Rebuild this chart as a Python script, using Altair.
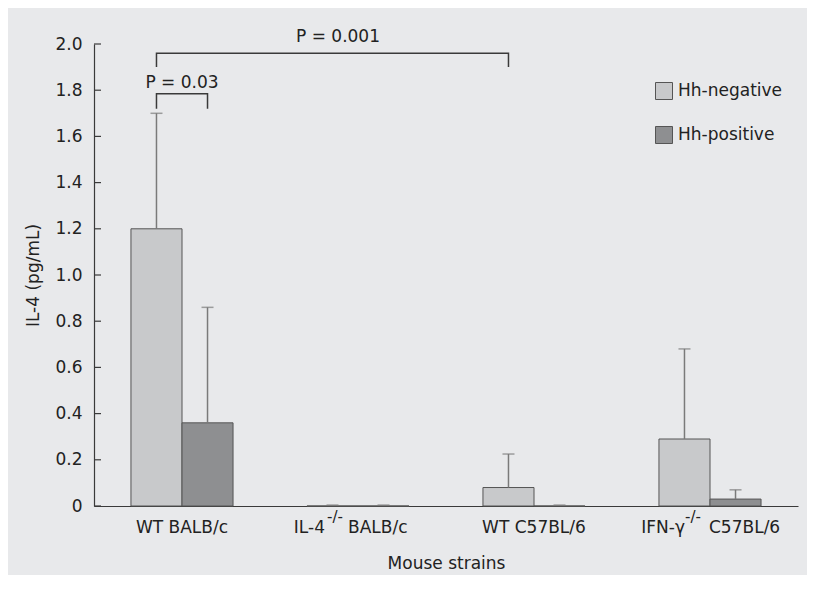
import altair as alt
import pandas as pd

# ---------------- data ----------------
strains = ["WT BALB/c", "IL-4-/- BALB/c", "WT C57BL/6", "IFN-γ-/- C57BL/6"]
groups = ["Hh-negative", "Hh-positive"]

neg_mean = [1.20, 0.0, 0.08, 0.29]
neg_upper = [1.70, 0.004, 0.225, 0.68]
pos_mean = [0.36, 0.0, 0.0, 0.03]
pos_upper = [0.86, 0.004, 0.004, 0.07]

y_ticks = [0, 0.2, 0.4, 0.6, 0.8, 1.0, 1.2, 1.4, 1.6, 1.8, 2.0]

# significance brackets
bracket_id = ["a", "a", "a", "a", "b", "b", "b", "b"]
bracket_strain = [strains[0], strains[0], strains[0], strains[0],
                  strains[0], strains[0], strains[2], strains[2]]
bracket_group = [groups[0], groups[0], groups[1], groups[1],
                 groups[0], groups[0], groups[0], groups[0]]
bracket_y = [1.72, 1.785, 1.785, 1.72, 1.90, 1.96, 1.96, 1.90]
bracket_order = [0, 1, 2, 3, 0, 1, 2, 3]

p_text = ["P = 0.03", "P = 0.001"]
p_strain = [strains[0], strains[1]]
p_y = [1.83, 2.03]
p_dx = [0, -20]

# x-axis label pieces (text, strain, align, dx, superscript?)
lab_text = ["WT BALB/c", "IL-4", "-/-", "BALB/c", "WT C57BL/6", "IFN-γ", "-/-", "C57BL/6"]
lab_strain = [strains[0], strains[1], strains[1], strains[1], strains[2], strains[3], strains[3], strains[3]]
lab_align = ["center", "right", "left", "left", "center", "right", "left", "left"]
lab_dx = [0, -33, -31, -10, 0, -25, -25, -1]
lab_sup = [False, False, True, False, False, False, True, False]

# ---------------- tables ----------------
bars = pd.DataFrame({
    "strain": strains * 2,
    "group": [groups[0]] * 4 + [groups[1]] * 4,
    "value": neg_mean + pos_mean,
    "upper": neg_upper + pos_upper,
})
ticks_df = pd.DataFrame({"t": y_ticks})
brackets = pd.DataFrame({"id": bracket_id, "strain": bracket_strain, "group": bracket_group,
                         "y": bracket_y, "ord": bracket_order})

FONT = "DejaVu Sans"
TXT = "#222222"
LINE = "#3a3a3a"

x_enc = alt.X("strain:N", sort=strains,
              scale=alt.Scale(domain=strains, paddingInner=0.42, paddingOuter=0.21),
              axis=alt.Axis(labels=False, ticks=False, domainColor=LINE, domainWidth=1.2,
                            title="Mouse strains", titleFontSize=17, titleFontWeight="normal",
                            titleColor=TXT, titlePadding=49, titleFont=FONT))
xo_enc = alt.XOffset("group:N", sort=groups, scale=alt.Scale(domain=groups, paddingInner=0, paddingOuter=0))
y_scale = alt.Scale(domain=[0, 2.0], nice=False)
y_enc = alt.Y("value:Q", scale=y_scale,
              axis=alt.Axis(values=y_ticks, tickSize=0, labelPadding=12, grid=False,
                            labelExpr="datum.value == 0 ? '0' : format(datum.value, '.1f')",
                            labelFontSize=17, labelColor=TXT, labelFont=FONT,
                            domainColor=LINE, domainWidth=1.2,
                            title="IL-4 (pg/mL)", titleFontSize=17, titleFontWeight="normal",
                            titleColor=TXT, titlePadding=12, titleFont=FONT))

bar_layer = alt.Chart(bars).mark_bar(stroke="#555555", strokeWidth=1).encode(
    x=x_enc, xOffset=xo_enc, y=y_enc,
    color=alt.Color("group:N", sort=groups,
                    scale=alt.Scale(domain=groups, range=["#c8c9cb", "#8e8f91"]),
                    legend=alt.Legend(title=None, orient="none", legendX=561, legendY=38,
                                      symbolType="square", symbolSize=289,
                                      symbolStrokeColor="#555555", symbolStrokeWidth=1,
                                      symbolOpacity=1, labelFontSize=17, labelColor=TXT,
                                      labelFont=FONT, labelOffset=5, rowPadding=22)),
)

err_layer = alt.Chart(bars).mark_rule(color="#7a7a7a", strokeWidth=1.5).encode(
    x=alt.X("strain:N", sort=strains), xOffset=alt.XOffset("group:N", sort=groups),
    y=alt.Y("value:Q", scale=y_scale), y2="upper:Q",
)
cap_layer = alt.Chart(bars).mark_tick(color="#7a7a7a", orient="horizontal", size=12, thickness=1.5).encode(
    x=alt.X("strain:N", sort=strains), xOffset=alt.XOffset("group:N", sort=groups),
    y=alt.Y("upper:Q", scale=y_scale),
)

tick_layer = alt.Chart(ticks_df).mark_rule(color=LINE, strokeWidth=1.2).encode(
    y=alt.Y("t:Q", scale=y_scale), x=alt.value(0), x2=alt.value(7),
)

bracket_layer = alt.Chart(brackets).mark_line(color=LINE, strokeWidth=1.5).encode(
    x=alt.X("strain:N", sort=strains), xOffset=alt.XOffset("group:N", sort=groups),
    y=alt.Y("y:Q", scale=y_scale), order="ord:Q", detail="id:N",
)

layers = [bar_layer, err_layer, cap_layer, tick_layer, bracket_layer]

for t, s, yv, dx in zip(p_text, p_strain, p_y, p_dx):
    df = pd.DataFrame({"strain": [s], "y": [yv], "label": [t]})
    layers.append(alt.Chart(df).mark_text(fontSize=17, font=FONT, color=TXT, dx=dx,
                                          align="center", baseline="middle").encode(
        x=alt.X("strain:N", sort=strains), y=alt.Y("y:Q", scale=y_scale), text="label:N"))

for t, s, al, dx, sup in zip(lab_text, lab_strain, lab_align, lab_dx, lab_sup):
    df = pd.DataFrame({"strain": [s], "y": [0.0], "label": [t]})
    layers.append(alt.Chart(df).mark_text(fontSize=15 if sup else 17, font=FONT, color=TXT,
                                          dx=dx, dy=11 if sup else 22,
                                          align=al, baseline="middle").encode(
        x=alt.X("strain:N", sort=strains), y=alt.Y("y:Q", scale=y_scale), text="label:N"))

chart = alt.layer(*layers).properties(
    width=704, height=462,
    padding={"left": 86, "top": 36, "right": 9, "bottom": 69},
    autosize=alt.AutoSizeParams(type="none"),
).configure(background="#e8e9eb", font=FONT).configure_view(stroke=None)

chart.save("out.html", embed_options={"renderer": "svg", "actions": False})
